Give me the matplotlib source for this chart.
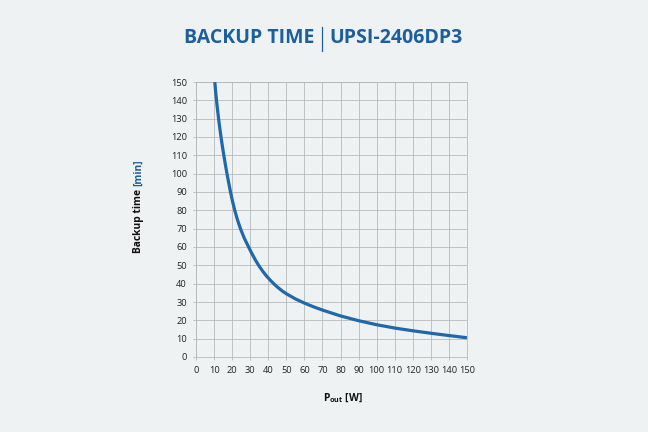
import matplotlib
matplotlib.use('Agg')
import matplotlib.pyplot as plt
from matplotlib.lines import Line2D

# backup time curve
p_out = [10.4, 10.85, 11.35, 11.9, 12.5, 13.15, 13.85, 14.6, 15.4, 16.25,
         17.15, 18.1, 19.1, 20.2, 21.45, 22.9, 24.6, 26.65, 29.1, 31,
         33, 35, 37, 39, 41, 43, 45, 47.5, 50, 55,
         60, 65, 70, 80, 90, 100, 110, 120, 130, 140, 150]
backup_min = [150, 145, 140, 135, 130, 125, 120, 115, 110, 105,
              100, 95, 90, 85, 80, 75, 70, 65, 60, 56.3,
              52.7, 49.5, 46.7, 44.2, 42.0, 40.0, 38.2, 36.2, 34.5, 31.7,
              29.4, 27.4, 25.6, 22.4, 19.8, 17.6, 15.8, 14.3, 12.95, 11.7, 10.5]
x_ticks = list(range(0, 151, 10))
y_ticks = list(range(0, 151, 10))

bg = '#eef2f2'
blue = '#1b5f9f'
line_blue = '#1f68a9'
font = ['Open Sans', 'DejaVu Sans']

fig = plt.figure(figsize=(9, 6), dpi=72, facecolor=bg)
ax = fig.add_axes([196/648, 1 - 357/432, 271/648, 275/432])
ax.set_facecolor(bg)

ax.plot(p_out, backup_min, color=line_blue, lw=3.2, solid_capstyle='butt',
        solid_joinstyle='round', zorder=3)

ax.set_xlim(0, 150)
ax.set_ylim(0, 150)
ax.set_xticks(x_ticks)
ax.set_yticks(y_ticks)
ax.grid(True, color='#b4b8b8', lw=0.8)
ax.set_axisbelow(True)
for s in ax.spines.values():
    s.set_color('#b4b8b8')
    s.set_linewidth(0.8)
ax.tick_params(length=3, width=0.8, color='#b4b8b8', labelsize=9.3, pad=6,
               labelcolor='#222222')
for lab in ax.get_xticklabels() + ax.get_yticklabels():
    lab.set_family(font)

# title in two parts with a thin bar between
fig.text(314/648, 1 - 38/432, 'BACKUP TIME', ha='right', va='center',
         fontsize=19.5, fontweight='bold', color=blue, family=font)
fig.text(329/648, 1 - 38/432, 'UPSI-2406DP3', ha='left', va='center',
         fontsize=19.5, fontweight='bold', color=blue, family=font)
fig.add_artist(Line2D([321.5/648, 321.5/648], [1 - 27/432, 1 - 51/432],
                      color=blue, lw=1.2))

# y label: black part + blue unit
t1 = fig.text(139/648, 1 - 253/432, 'Backup time ', rotation=90, ha='center',
              va='bottom', fontsize=10.3, fontweight='bold', color='#111111',
              family=font)
fig.canvas.draw()
bb = t1.get_window_extent()
fig.text(139/648, bb.y1 / 432, '[min]', rotation=90, ha='center', va='bottom',
         fontsize=10.3, fontweight='bold', color=blue, family=font)

# x label
fig.text(343/648, 1 - 398/432, r'P$_{\mathregular{out}}$ [W]', ha='center',
         va='center', fontsize=10.3, fontweight='bold', color='#111111',
         family=font)

fig.savefig('out.png', dpi=72, facecolor=bg)
